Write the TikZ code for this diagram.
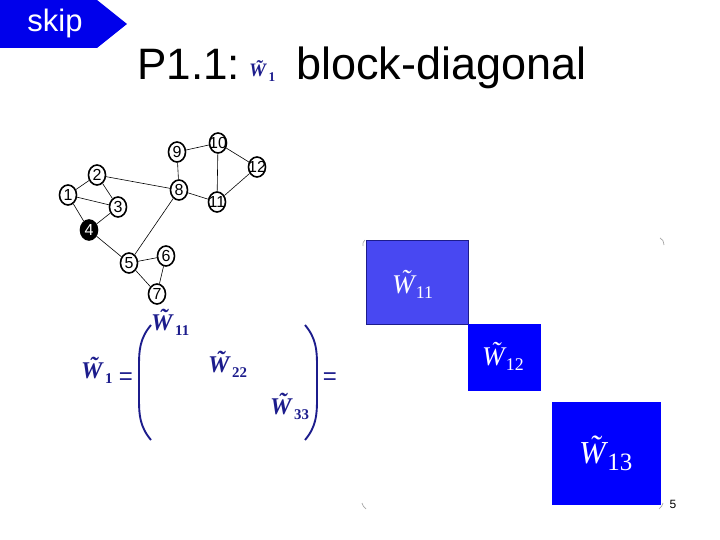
\documentclass[tikz,border=0pt]{standalone}
\usepackage{fontspec}
\usepackage{graphicx}
\setmainfont{Liberation Sans}
\newfontfamily\tms{Liberation Serif}
\usetikzlibrary{shapes.geometric}
\definecolor{navy}{RGB}{28,28,140}
\definecolor{skipblue}{RGB}{0,0,235}
\definecolor{lightblk}{RGB}{72,72,242}
\definecolor{pureblue}{RGB}{0,0,255}
\newcommand{\tW}[3][0.62]{{\tms\ooalign{\textit{W}\cr\hidewidth\kern0.14em\raisebox{0.17em}{\textit{\char"02DC}}\hidewidth\cr}\kern#2em\raisebox{-0.22em}{\scalebox{#1}{\textup{#3}}}}}
\tikzset{
  gnode/.style={ellipse,draw=black,line width=1.6pt,fill=white,minimum width=17pt,minimum height=20pt,inner sep=0pt,font=\fontsize{16}{16}\selectfont},
  gedge/.style={draw=black,line width=0.6pt},
  blocktext/.style={text=white,anchor=base west,inner sep=0pt},
  eqtext/.style={text=navy,anchor=base west,inner sep=0pt,font=\fontsize{24}{26}\selectfont\bfseries},
  eqsign/.style={text=navy,inner sep=0pt,font=\fontsize{24}{26}\selectfont},
  paren/.style={draw=navy,line width=1.9pt},
  cornermark/.style={draw=gray!70,line width=0.7pt}
}
\begin{document}
\begin{tikzpicture}[x=1pt,y=-1pt]
\useasboundingbox (0,0) rectangle (720,540);
% skip button
\fill[skipblue] (0,0) -- (97,0) -- (127,24) -- (97,48) -- (0,48) -- cycle;
\node[text=white,font=\fontsize{31}{32}\selectfont] (skip) at (55,23) {skip};
% title
\node[anchor=base west,inner sep=0pt,font=\fontsize{44}{50}\selectfont] (t1) at (137,80) {P1.1:};
\node[anchor=base west,inner sep=0pt,text=navy,font=\fontsize{19}{20}\selectfont\bfseries] (t2) at (249,77) {\tW[0.7]{0.08}{1}};
\node[anchor=base west,inner sep=0pt,font=\fontsize{45}{50}\selectfont] (t3) at (296,80) {block-diagonal};
% graph
\node[gnode] (n1) at (68,195) {\makebox[0pt]{1}};
\node[gnode] (n2) at (97,175) {\makebox[0pt]{2}};
\node[gnode] (n3) at (118,207) {\makebox[0pt]{3}};
\node[gnode,fill=black,text=white] (n4) at (89,230) {\makebox[0pt]{4}};
\node[gnode] (n5) at (129,263) {\makebox[0pt]{5}};
\node[gnode] (n6) at (166,256) {\makebox[0pt]{6}};
\node[gnode] (n7) at (157,294) {\makebox[0pt]{7}};
\node[gnode] (n8) at (179,190) {\makebox[0pt]{8}};
\node[gnode] (n9) at (177,152) {\makebox[0pt]{9}};
\node[gnode] (n10) at (218,143) {\makebox[0pt]{10}};
\node[gnode] (n11) at (217,202) {\makebox[0pt]{11}};
\node[gnode] (n12) at (257,167) {\makebox[0pt]{12}};
\draw[gedge] (n1) -- (n2);
\draw[gedge] (n1) -- (n3);
\draw[gedge] (n1) -- (n4);
\draw[gedge] (n2) -- (n3);
\draw[gedge] (n3) -- (n4);
\draw[gedge] (n2) -- (n8);
\draw[gedge] (n4) -- (n5);
\draw[gedge] (n5) -- (n8);
\draw[gedge] (n5) -- (n6);
\draw[gedge] (n5) -- (n7);
\draw[gedge] (n6) -- (n7);
\draw[gedge] (n8) -- (n9);
\draw[gedge] (n8) -- (n11);
\draw[gedge] (n9) -- (n10);
\draw[gedge] (n10) -- (n11);
\draw[gedge] (n10) -- (n12);
\draw[gedge] (n11) -- (n12);
% equation
\node[eqtext] (w1) at (81,378) {\tW{0.05}{1}};
\node[eqsign] (eq1) at (126,379) {=};
\node[eqtext] (w11) at (151,330) {\tW{0.05}{11}};
\node[eqtext] (w22) at (208,372) {\tW{0.05}{22}};
\node[eqtext] (w33) at (270,414) {\tW{0.05}{33}};
\node[eqsign] (eq2) at (330,379) {=};
\draw[paren] (151,325) .. controls (140,338) and (139,350) .. (139,365) -- (139,400) .. controls (139,415) and (140,427) .. (151,440);
\draw[paren] (305,325) .. controls (316,338) and (317,350) .. (317,365) -- (317,400) .. controls (317,415) and (316,427) .. (305,440);
% blocks
\draw[fill=lightblk,draw=navy,line width=0.8pt] (366,240) rectangle (468,324);
\fill[pureblue] (468,324) rectangle (541,391);
\fill[pureblue] (552,402) rectangle (661,505);
\node[blocktext,font=\fontsize{27}{28}\selectfont] (b1) at (392,293) {\tW[0.66]{-0.03}{11}};
\node[blocktext,font=\fontsize{27}{28}\selectfont] (b2) at (482,365) {\tW[0.66]{-0.03}{12}};
\node[blocktext,font=\fontsize{32}{34}\selectfont] (b3) at (579,463) {\tW[0.78]{-0.03}{13}};
% corner marks
\draw[cornermark] (365,240) .. controls (363,242) .. (363,246);
\draw[cornermark] (660,238) .. controls (663,240) .. (664,245);
\draw[cornermark] (362,503) .. controls (363,506) .. (366,509);
\draw[cornermark] (663,503) .. controls (662,506) .. (659,509);
% page number
\node[font=\fontsize{12}{12}\selectfont] (pg) at (673,504) {5};
\end{tikzpicture}
\end{document}
